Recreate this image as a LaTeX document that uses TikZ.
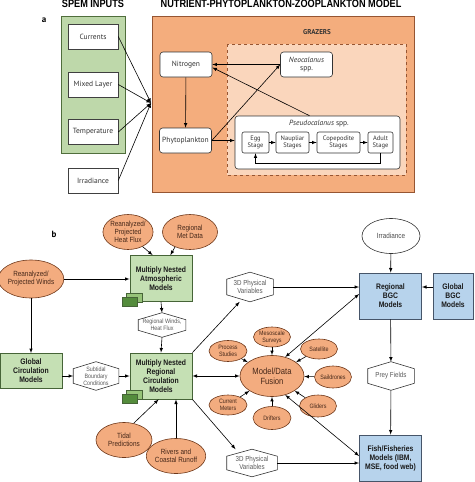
\documentclass[tikz,border=0pt]{standalone}
\usepackage{fontspec}
\setmainfont{PT Sans}
\newfontfamily\cnfont{Liberation Sans}[FakeStretch=0.85]
\usetikzlibrary{shapes.geometric}

\definecolor{spemgreen}{RGB}{190,216,170}
\definecolor{spemline}{RGB}{80,110,60}
\definecolor{npzorange}{RGB}{244,173,125}
\definecolor{npzline}{RGB}{150,85,50}
\definecolor{grazlight}{RGB}{250,214,188}
\definecolor{modelgreen}{RGB}{197,224,180}
\definecolor{modelline}{RGB}{70,100,55}
\definecolor{bgcblue}{RGB}{183,211,236}
\definecolor{bgcline}{RGB}{70,85,105}
\definecolor{srcorange}{RGB}{243,172,127}
\definecolor{srcline}{RGB}{110,55,25}
\definecolor{srctext}{RGB}{70,40,25}
\definecolor{stackdark}{RGB}{84,140,60}
\definecolor{stacklight}{RGB}{150,195,120}

\tikzstyle{inbox}=[shape=rectangle,
                draw=black!75,
                fill=white,
                minimum height=25pt,
                minimum width=50pt,
                font=\fontsize{7.5}{8}\selectfont,
                text=black!80,
                semithick]
\tikzstyle{npz}=[shape=rectangle,
                rounded corners=3pt,
                draw=black!80,
                fill=white,
                minimum height=25pt,
                minimum width=52pt,
                inner sep=1pt,
                align=center,
                font=\fontsize{7.5}{8.5}\selectfont,
                text=black!80,
                semithick]
\tikzstyle{stage}=[shape=rectangle,
                rounded corners=2pt,
                draw=black!80,
                fill=white,
                minimum height=21pt,
                inner sep=1pt,
                align=center,
                font=\fontsize{6.5}{7}\selectfont,
                text=black!80,
                semithick]
\tikzstyle{modelg}=[shape=rectangle,
                draw=modelline,
                fill=modelgreen,
                minimum width=62pt,
                minimum height=46pt,
                align=center,
                text=black!90,
                font=\cnfont\bfseries\fontsize{8}{9}\selectfont,
                thick]
\tikzstyle{modelb}=[modelg,
                draw=bgcline,
                fill=bgcblue]
\tikzstyle{src}=[shape=ellipse,
                draw=srcline,
                fill=srcorange,
                inner sep=0pt,
                align=center,
                text=srctext,
                font=\cnfont\fontsize{7.5}{8}\selectfont,
                semithick]
\tikzstyle{obs}=[src,
                font=\cnfont\fontsize{6.3}{6.8}\selectfont]
\tikzstyle{hexv}=[shape=rectangle,
                inner sep=0pt,
                align=center,
                text=black!65,
                font=\cnfont\fontsize{7.3}{7.8}\selectfont]

\begin{document}
\begin{tikzpicture}[x=1pt,y=-1pt,>=latex,semithick]
\useasboundingbox (0,0) rectangle (474,482);

% headings
\node[font=\cnfont\bfseries\fontsize{10.8}{11}\selectfont, anchor=base] (hspem) at (93,7.5) {SPEM INPUTS};
\node[font=\cnfont\bfseries\fontsize{10.8}{11}\selectfont, anchor=base] (hnpz) at (281,7.5) {NUTRIENT-PHYTOPLANKTON-ZOOPLANKTON MODEL};
\node[font=\bfseries\fontsize{9}{9}\selectfont] (la) at (44,20) {a};
\node[font=\bfseries\fontsize{9}{9}\selectfont] (lb) at (54,234) {b};

% panels
\draw[draw=spemline, fill=spemgreen, thick] (61,16) rectangle (125,153);
\draw[draw=npzline, fill=npzorange, thick] (152,16) rectangle (414,192);
\draw[draw=npzline, fill=grazlight, dashed] (227,44) rectangle (406,175);
\node[font=\bfseries\fontsize{7}{8}\selectfont, text=black!80] (graz) at (317,32) {GRAZERS};

% SPEM inputs
\node[inbox] (cur)  at (93,36.5)  {Currents};
\node[inbox] (mix)  at (93,84.5)  {Mixed Layer};
\node[inbox] (temp) at (93,132)   {Temperature};
\node[inbox] (irrA) at (93,180.5) {Irradiance};
\coordinate (spemin) at (151,103);
\foreach \i in {cur,mix,temp,irrA}
  \draw[->] (\i.east) -- (spemin);

% NPZ compartments
\node[npz] (nitro) at (186,64.5)  {Nitrogen};
\node[npz] (phyto) at (185.5,140.5) {Phytoplankton};
\node[npz] (neo)   at (306.5,64.5) {\textit{Neocalanus}\\spp.};
\node[npz, minimum width=165pt, minimum height=53pt] (pseudo) at (317.5,142.5) {};
\node[font=\fontsize{7.5}{8}\selectfont, text=black!80] (ptitle) at (319,124) {\textit{Pseudocalanus} spp.};
\node[stage, minimum width=27pt] (egg)   at (255.5,142.5) {Egg\\Stage};
\node[stage, minimum width=33pt] (naup)  at (292.5,142.5) {Naupliar\\Stages};
\node[stage, minimum width=43pt] (cope)  at (338.5,142.5) {Copepodite\\Stages};
\node[stage, minimum width=25pt] (adult) at (380.5,142.5) {Adult\\Stage};

% NPZ fluxes
\draw[->] (nitro) -- (phyto);
\draw[->] (neo.west) -- (neo.west -| nitro.east);
\draw[->] ([xshift=-8pt]pseudo.north) -- ([yshift=-3pt]nitro.east);
\draw[->] (phyto.east) -- (neo.west);
\draw[->] (phyto.east) -- (phyto.east -| pseudo.west);
\draw[->] (egg) -- (naup);
\draw[->] (naup) -- (cope);
\draw[->] (cope) -- (adult);
\draw[->] (adult.south) -- ++(0,10) -| (egg.south);

% forcing
\node[src, minimum width=50pt, minimum height=35pt] (heat)  at (128,232) {Reanalyzed/\\Projected\\Heat Flux};
\node[src, minimum width=55pt, minimum height=35pt] (met)   at (190,232) {Regional\\Met Data};
\node[src, minimum width=57pt, minimum height=38pt] (winds) at (31,279)  {Reanalyzed/\\Projected Winds};
\node[src, minimum width=56pt, minimum height=35pt] (tidal) at (124,440) {Tidal\\Predictions};
\node[src, minimum width=56pt, minimum height=35pt] (river) at (176,456) {Rivers and\\Coastal Runoff};

% circulation models
\node[modelg] (atmos) at (161,278.5) {Multiply Nested\\Atmospheric\\Models};
\node[modelg, minimum height=35pt] (gcm) at (31,371) {Global\\Circulation\\Models};
\node[modelg] (rcm) at (161,376) {Multiply Nested\\Regional\\Circulation\\Models};
\foreach \m in {atmos,rcm}{
  \begin{scope}[shift={(\m.south west)}]
    \draw[draw=modelline, fill=stacklight] (-3,-9) rectangle (13,0);
    \draw[draw=modelline, fill=stackdark] (-7,-5) rectangle (8,4);
  \end{scope}
}

% exchanged variables
\node[hexv, minimum width=47pt, minimum height=24pt, font=\cnfont\fontsize{6.3}{7}\selectfont] (rwind) at (162,325) {Regional Winds,\\Heat Flux};
\node[hexv, minimum width=45pt, minimum height=28pt, font=\cnfont\fontsize{6.3}{6.8}\selectfont] (subt)  at (96,376)  {Subtidal\\Boundary\\Conditions};
\node[hexv, minimum width=46pt, minimum height=29pt] (phys1) at (250,287) {3D Physical\\Variables};
\node[hexv, minimum width=50pt, minimum height=27pt] (phys2) at (252,463) {3D Physical\\Variables};
\node[hexv, minimum width=46pt, minimum height=28pt] (prey)  at (391,376) {Prey Fields};
\foreach \h in {rwind,subt,phys1,phys2,prey}
  \draw[black!80] ([yshift=-7pt]\h.north west) -- (\h.north) -- ([yshift=-7pt]\h.north east)
    -- ([yshift=7pt]\h.south east) -- (\h.south) -- ([yshift=7pt]\h.south west) -- cycle;

% model/data fusion and observations
\node[src, minimum width=64pt, minimum height=41pt, font=\cnfont\fontsize{9}{10}\selectfont] (fusion) at (272,376) {Model/Data\\Fusion};
\node[obs, minimum width=37pt, minimum height=20pt] (meso)  at (272,337) {Mesoscale\\Surveys};
\node[obs, minimum width=38pt, minimum height=21pt] (proc)  at (228,351) {Process\\Studies};
\node[obs, minimum width=37pt, minimum height=20pt] (sat)   at (319,349) {Satellite};
\node[obs, minimum width=37pt, minimum height=22pt] (sail)  at (333,377) {Saildrones};
\node[obs, minimum width=37pt, minimum height=22pt] (glide) at (318,406) {Gliders};
\node[obs, minimum width=38pt, minimum height=23pt] (drift) at (272,418) {Drifters};
\node[obs, minimum width=38pt, minimum height=20pt] (curm)  at (228,405) {Current\\Meters};
\foreach \o in {meso,proc,sat,sail,glide,drift,curm}
  \draw[->] (\o) -- (fusion);

% biogeochemical and fish models
\node[shape=ellipse, draw=black!80, fill=white, minimum width=58pt, minimum height=35pt,
      font=\cnfont\fontsize{7.5}{8}\selectfont, text=black!70] (irrB) at (391,236) {Irradiance};
\node[modelb] (rbgc) at (390.5,296) {Regional\\BGC\\Models};
\node[modelb, minimum width=40pt] (gbgc) at (453,296) {Global\\BGC\\Models};
\node[modelb] (fish) at (390.5,458) {Fish/Fisheries\\Models (IBM,\\MSE, food web)};

% paths
\draw[->] (heat.-45) -- ([xshift=23pt]atmos.north west);
\draw[->] (met.-135) -- ([xshift=-22pt]atmos.north east);
\draw[->] (winds.east) -- (winds.east -| atmos.west);
\draw[->] (winds.south) -- (gcm.north);
\draw[->] (atmos.south) -- (rwind.north);
\draw[->] (rwind.south) -- (rcm.north);
\draw[->] (gcm.east |- subt.west) -- (subt.west);
\draw[->] (subt.east) -- (subt.east -| rcm.west);
\draw[->] (tidal.60) -- ([xshift=29pt]rcm.south west);
\draw[->] (river.north) -- (river.north |- rcm.south);
\draw[<->] (rcm.east) -- (fusion.west);
\draw[->] (rcm.north east) -- (phys1.-125);
\draw[->] (rcm.south east) -- (phys2.140);
\draw[->] (phys1.east) -- (phys1.east -| rbgc.west);
\draw[<->] (fusion.55) -- ([yshift=2pt]rbgc.west);
\draw[<->] (fusion.-55) -- ([yshift=2pt]fish.west);
\draw[->] (phys2.east) -- (phys2.east -| fish.west);
\draw[->] (irrB) -- (rbgc);
\draw[->] ([yshift=9pt]gbgc.west) -- ([yshift=9pt]rbgc.east);
\draw[->] (rbgc) -- (prey);
\draw[->] (prey) -- (fish);

\end{tikzpicture}
\end{document}
